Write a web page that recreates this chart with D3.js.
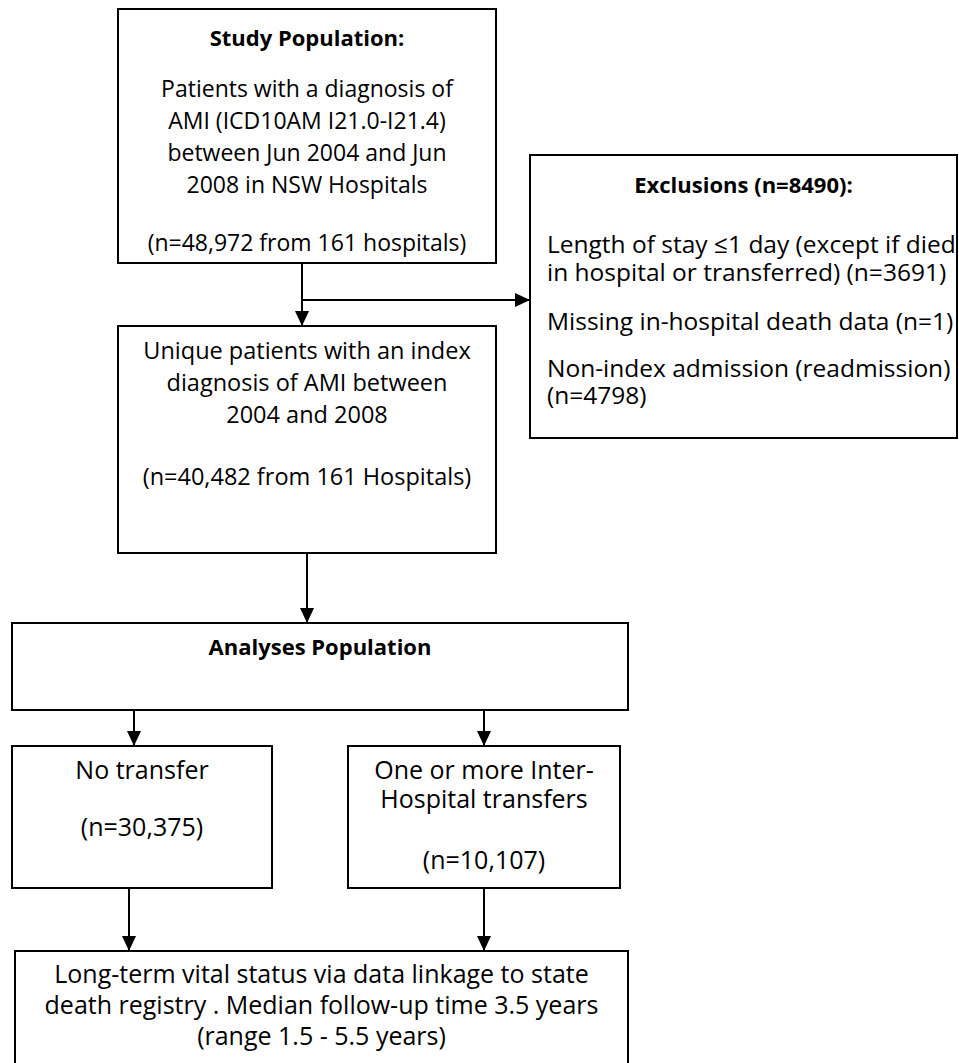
<!DOCTYPE html>
<html>
<head>
<meta charset="utf-8">
<script src="https://cdn.jsdelivr.net/npm/d3@7"></script>
<style>
  body { margin:0; background:#fff; }
  svg text { font-family: "Open Sans", Lato, sans-serif; fill:#000; }
</style>
</head>
<body>
<div id="chart"></div>
<script>
// box texts
var studyLines = ["Study Population:", "Patients with a diagnosis of", "AMI (ICD10AM I21.0-I21.4)",
  "between Jun 2004 and Jun", "2008 in NSW Hospitals", "(n=48,972 from 161 hospitals)"];
var uniqueLines = ["Unique patients with an index", "diagnosis of AMI between", "2004 and 2008",
  "(n=40,482 from 161 Hospitals)"];
var exclusionLines = ["Exclusions (n=8490):", "Length of stay \u22641 day (except if died",
  "in hospital or transferred) (n=3691)", "Missing in-hospital death data (n=1)",
  "Non-index admission (readmission)", "(n=4798)"];
var analysesLines = ["Analyses Population"];
var noTransferLines = ["No transfer", "(n=30,375)"];
var transferLines = ["One or more Inter-", "Hospital transfers", "(n=10,107)"];
var followLines = ["Long-term vital status via data linkage to state",
  "death registry . Median follow-up time 3.5 years", "(range 1.5 - 5.5 years)"];

var W = 959, H = 1063;

var svg = d3.select("#chart").append("svg")
  .attr("width", W)
  .attr("height", H);

svg.append("defs").append("marker")
  .attr("id", "head")
  .attr("viewBox", "0 0 15 14")
  .attr("refX", 15).attr("refY", 7)
  .attr("markerWidth", 15).attr("markerHeight", 14)
  .attr("markerUnits", "userSpaceOnUse")
  .attr("orient", "auto")
  .append("path")
  .attr("d", "M0,0L15,7L0,14Z")
  .attr("fill", "#000");

// layout of the boxes (pixels)
var boxes = [
  {lines: studyLines, x0:118, y0:9, x1:496, y1:263, ys:[46,97,129,161,193,251], bold:[0], fs:23},
  {lines: uniqueLines, x0:118, y0:326, x1:496, y1:553, ys:[359,391,423,485], bold:[], fs:23.5},
  {lines: exclusionLines, x0:530, y0:155, x1:957, y1:438, ys:[193,253,281,330,377,404], bold:[0], left:547, fs:24.5},
  {lines: analysesLines, x0:12, y0:623, x1:628, y1:710, ys:[655], bold:[0], fs:23},
  {lines: noTransferLines, x0:12, y0:746, x1:272, y1:888, ys:[779,836], bold:[], fs:25},
  {lines: transferLines, x0:348, y0:746, x1:620, y1:888, ys:[779,808,869], bold:[], fs:25},
  {lines: followLines, x0:15, y0:951, x1:628, y1:1080, ys:[983,1014,1045], bold:[], fs:25}
];

var arrows = [
  {x1:302, y1:263, x2:302, y2:326},
  {x1:302, y1:300, x2:530, y2:300},
  {x1:307, y1:553, x2:307, y2:623},
  {x1:134, y1:710, x2:134, y2:746},
  {x1:484, y1:710, x2:484, y2:746},
  {x1:129, y1:888, x2:129, y2:951},
  {x1:484, y1:888, x2:484, y2:951}
];

svg.selectAll(".box")
  .data(boxes)
  .enter()
  .append("rect")
  .attr("class", "box")
  .attr("x", function(d){ return d.x0; })
  .attr("y", function(d){ return d.y0; })
  .attr("width", function(d){ return d.x1 - d.x0; })
  .attr("height", function(d){ return d.y1 - d.y0; })
  .attr("fill", "#fff")
  .attr("stroke", "#000")
  .attr("stroke-width", 2);

svg.selectAll(".arrow")
  .data(arrows)
  .enter()
  .append("line")
  .attr("class", "arrow")
  .attr("x1", function(d){ return d.x1; })
  .attr("y1", function(d){ return d.y1; })
  .attr("x2", function(d){ return d.x2; })
  .attr("y2", function(d){ return d.y2; })
  .attr("stroke", "#000")
  .attr("stroke-width", 2)
  .attr("marker-end", "url(#head)");

boxes.forEach(function(b){
  var cx = (b.x0 + b.x1) / 2;
  svg.append("g")
    .selectAll("text")
    .data(b.lines)
    .enter()
    .append("text")
    .attr("x", function(d,i){
      if (b.left && i > 0) return b.left;
      return cx;
    })
    .attr("y", function(d,i){ return b.ys[i]; })
    .attr("text-anchor", function(d,i){ return (b.left && i > 0) ? "start" : "middle"; })
    // bold headings are set a bit smaller, they run wider in this face
    .attr("font-size", function(d,i){ return b.bold.indexOf(i) >= 0 ? "22px" : b.fs + "px"; })
    .attr("font-weight", function(d,i){ return b.bold.indexOf(i) >= 0 ? "bold" : "normal"; })
    .text(function(d){ return d; });
});
</script>
</body>
</html>
